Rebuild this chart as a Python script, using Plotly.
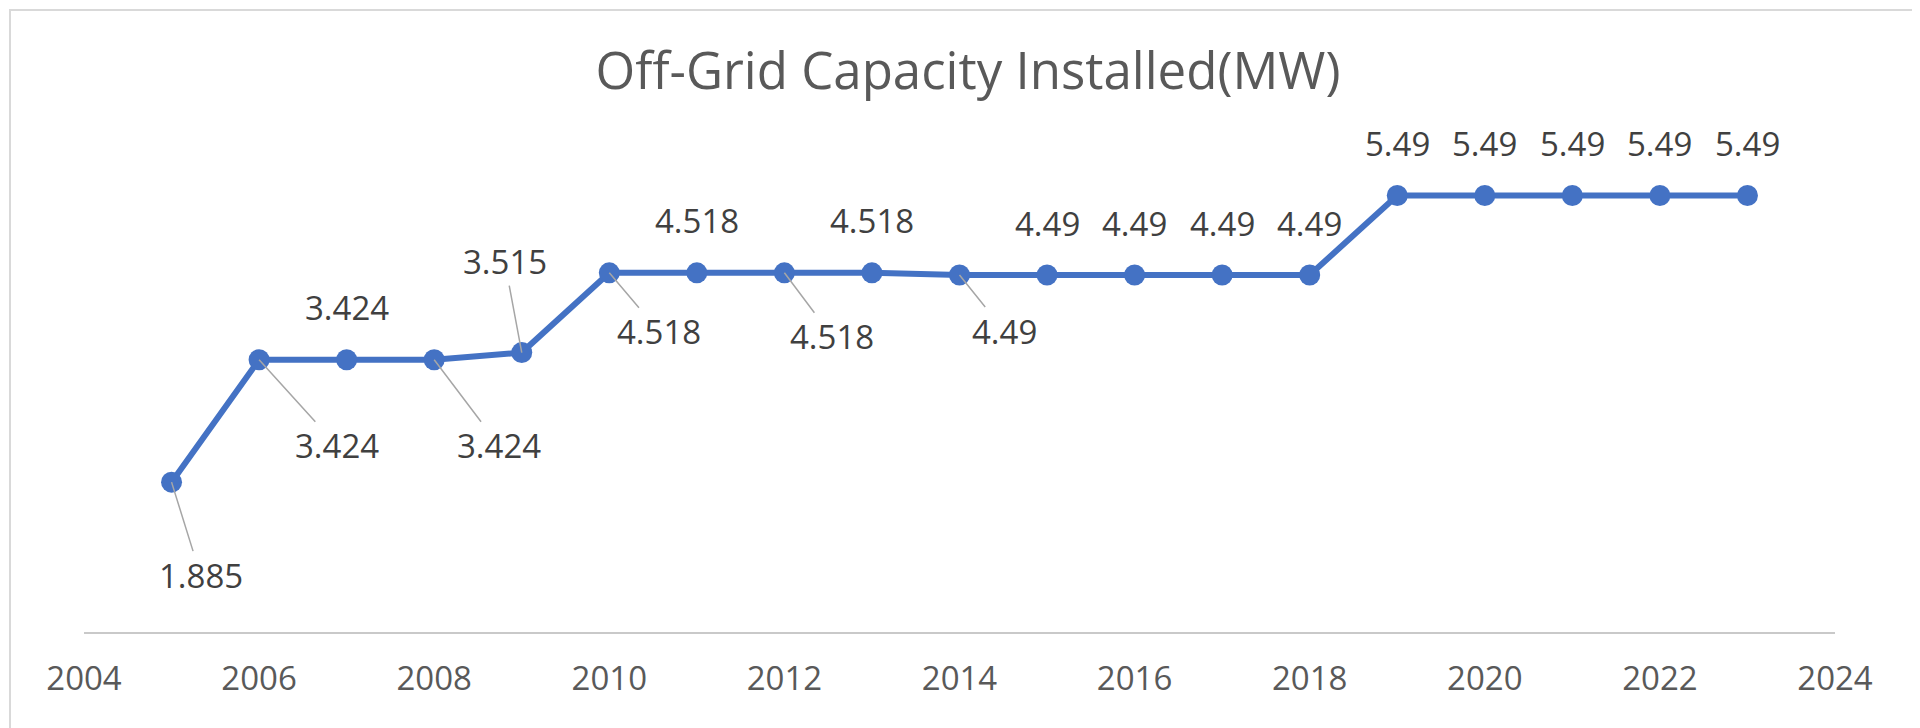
import plotly.graph_objects as go

years = [2005, 2006, 2007, 2008, 2009, 2010, 2011, 2012, 2013, 2014,
         2015, 2016, 2017, 2018, 2019, 2020, 2021, 2022, 2023]
capacity = [1.885, 3.424, 3.424, 3.424, 3.515, 4.518, 4.518, 4.518, 4.518, 4.49,
            4.49, 4.49, 4.49, 4.49, 5.49, 5.49, 5.49, 5.49, 5.49]
labels = ["1.885", "3.424", "3.424", "3.424", "3.515", "4.518", "4.518", "4.518", "4.518", "4.49",
          "4.49", "4.49", "4.49", "4.49", "5.49", "5.49", "5.49", "5.49", "5.49"]
title_text = "Off-Grid Capacity Installed(MW)"

W, H = 1920, 728
ML, MR, MT, MB = 76, 93, 147, 104

# label placement (pixel offsets from point) for labels with leader lines
offsets = {
    2005: (29, 93), 2006: (78, 86), 2008: (65, 86), 2009: (-17, -91),
    2010: (50, 59), 2012: (48, 64), 2014: (45, 56),
}

LABEL_FONT = dict(family="Open Sans", size=33, color="#404040")

fig = go.Figure()
fig.add_trace(go.Scatter(
    x=years, y=capacity, mode="lines+markers",
    line=dict(color="#4472C4", width=6),
    marker=dict(color="#4472C4", size=21),
    hoverinfo="x+y", showlegend=False,
))

annotations = []
for yr, v, lab in zip(years, capacity, labels):
    if yr in offsets:
        ax, ay = offsets[yr]
        annotations.append(dict(
            x=yr, y=v, xref="x", yref="y", text=lab, showarrow=True,
            ax=ax, ay=ay, arrowhead=0, arrowwidth=1.5, arrowcolor="#a6a6a6",
            standoff=0, startstandoff=0, font=LABEL_FONT,
        ))
    else:
        annotations.append(dict(
            x=yr, y=v, xref="x", yref="y", text=lab, showarrow=False,
            yshift=52, font=LABEL_FONT,
        ))

pw = W - ML - MR
ph = H - MT - MB
fig.update_layout(
    width=W, height=H,
    margin=dict(l=ML, r=MR, t=MT, b=MB),
    paper_bgcolor="white", plot_bgcolor="white",
    title=dict(text=title_text, x=0.5, xanchor="center", y=1 - 63 / H, yanchor="middle",
               font=dict(family="Open Sans", size=51, color="#595959")),
    xaxis=dict(range=[2004, 2024], dtick=2, tick0=2004, showgrid=False, zeroline=False,
               showline=True, linecolor="#c9c9c9", linewidth=2,
               ticks="", ticklabelstandoff=16,
               tickfont=dict(family="Open Sans", size=33, color="#595959")),
    yaxis=dict(range=[0, 6], visible=False, showgrid=False, zeroline=False),
    annotations=annotations,
    shapes=[dict(type="rect", xref="paper", yref="paper",
                 x0=(-ML + 2) / pw, x1=1 + (MR - 2) / pw,
                 y0=(-MB + 2) / ph, y1=1 + (MT - 2) / ph,
                 line=dict(color="#d9d9d9", width=2), fillcolor="rgba(0,0,0,0)", layer="below")],
)

fig.write_html("out.html")
